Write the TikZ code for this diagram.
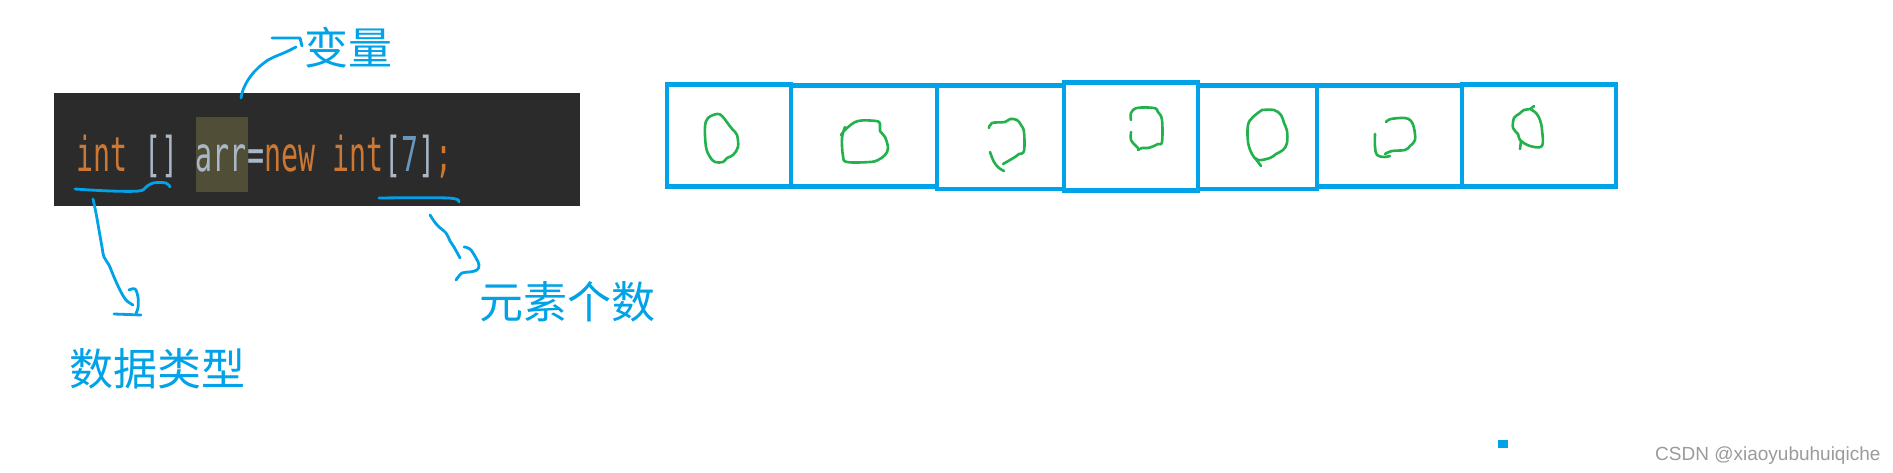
\documentclass[tikz,border=0pt]{standalone}
\usepackage{fontspec}
\newfontfamily\cjk{Noto Sans CJK SC}
\newfontfamily\codefont{DejaVu Sans Mono}
\newfontfamily\wmfont{Liberation Sans}
\definecolor{codebg}{HTML}{2B2B2B}
\definecolor{kw}{HTML}{CC7832}
\definecolor{ident}{HTML}{A9B7C6}
\definecolor{num}{HTML}{6897BB}
\definecolor{hl}{HTML}{514E38}
\definecolor{pen}{HTML}{00A2E8}
\definecolor{grn}{HTML}{22B14C}
\definecolor{wm}{HTML}{9B9B9B}
\newcommand{\cd}[1]{\scalebox{0.59}[1]{#1}}
\begin{document}
\begin{tikzpicture}[x=1pt,y=-1pt,
 code/.style={anchor=base west, inner sep=0pt, font=\codefont\fontsize{48}{50}\selectfont},
 note/.style={inner sep=0pt, text=pen, font=\cjk\fontsize{44}{48}\selectfont},
 cell/.style={draw=pen, line width=4.5pt},
 ink/.style={draw=pen, line width=2.8pt, line cap=round, line join=round},
 circ/.style={draw=grn, line width=2.6pt, line cap=round, line join=round}]
\useasboundingbox (0,0) rectangle (1893,473);
\fill[white] (0,0) rectangle (1893,473);
% code box
\fill[codebg] (54,93) rectangle (580,206);
\fill[hl] (196,117) rectangle (248,192);
\node[code,text=kw] (t1) at (76,172) {\cd{int}};
\node[code,text=ident] (t2) at (144.4,172) {\cd{[]}};
\node[code,text=ident] (t3) at (195.7,172) {\cd{arr}};
\node[code,text=ident] (t4) at (247,172) {\cd{=}};
\node[code,text=kw] (t5) at (264.1,172) {\cd{new}};
\node[code,text=kw] (t6) at (332.5,172) {\cd{int}};
\node[code,text=ident] (t7) at (383.8,172) {\cd{[}};
\node[code,text=num] (t8) at (400.9,172) {\cd{7}};
\node[code,text=ident] (t9) at (418,172) {\cd{]}};
\node[code,text=kw] (t10) at (435.1,172) {\cd{;}};
% array cells
\draw[cell] (667,84.5) rectangle (791,186.5);
\draw[cell] (791,85.5) rectangle (937,186.5);
\draw[cell] (937,85.5) rectangle (1064,189);
\draw[cell] (1064,82.5) rectangle (1198,190.5);
\draw[cell] (1198,85.5) rectangle (1317,189);
\draw[cell] (1317,85.5) rectangle (1462,186.5);
\draw[cell] (1462,84.5) rectangle (1616,186.5);
% green zeros
\draw[circ] plot[smooth cycle, tension=0.6] coordinates {(706,147) (705,127) (708,118) (717,114) (722,116) (729,125) (733,130) (737,135) (738,147) (733,155) (727,158) (723,162) (715,162) (710,157)};
\draw[circ] plot[smooth, tension=0.6] coordinates {(841,135) (847,128) (858,121) (876,121) (880,124) (880,131) (885,137) (888,148) (885,155) (878,160) (870,162) (847,162) (843,156) (842,138) (845,127)};
\draw[circ] plot[smooth, tension=0.6] coordinates {(989,128) (992,123) (1005,122) (1010,119) (1017,120) (1021,125) (1024,132) (1024,151) (1019,154) (1015,157) (1010,160) (1003,164)};
\draw[circ] plot[smooth, tension=0.6] coordinates {(990,152) (994,162) (999,168) (1004,171)};
\draw[circ] plot[smooth, tension=0.6] coordinates {(1131,120) (1131,113) (1137,108) (1154,108) (1158,112) (1162,120) (1162,142) (1158,144) (1154,146) (1148,148) (1142,148) (1138,150)};
\draw[circ] plot[smooth, tension=0.6] coordinates {(1131,132) (1131,140) (1135,145) (1138,148)};
\draw[circ] plot[smooth, tension=0.6] coordinates {(1262,110) (1274,110) (1281,115) (1284,123) (1287,131) (1287,143) (1283,150) (1276,154) (1270,158) (1258,160) (1252,154) (1248,142) (1248,125) (1253,117) (1262,110)};
\draw[circ] plot[smooth, tension=0.6] coordinates {(1255,158) (1261,166)};
\draw[circ] plot[smooth, tension=0.6] coordinates {(1386,122) (1391,119) (1405,118) (1411,121) (1414,128) (1415,140) (1410,146) (1405,150) (1392,151) (1385,154)};
\draw[circ] plot[smooth, tension=0.6] coordinates {(1375,134) (1375,147) (1377,155) (1384,157) (1390,156)};
\draw[circ] plot[smooth, tension=0.6] coordinates {(1534,106) (1530,109) (1524,110) (1519,114) (1514,118) (1513,128) (1518,134) (1520,140) (1530,146) (1542,146) (1542,130) (1540,120) (1536,113) (1530,109)};
\draw[circ] plot[smooth, tension=0.6] coordinates {(1521,141) (1520,149)};
% blue annotations
\draw[ink] plot[smooth, tension=0.6] coordinates {(75,189) (110,191) (139,191) (146,187) (153,183) (166,183) (170,187)};
\draw[ink] plot[smooth, tension=0.6] coordinates {(93,199) (96,213) (99,230) (102,247) (104,257) (109,265) (114,277) (120,290) (126,300) (133,305)};
\draw[ink] plot[smooth, tension=0.6] coordinates {(129,290) (135,289) (138,297) (138,308) (136,313)};
\draw[ink] (114,314) -- (141,315);
\draw[ink] plot[smooth, tension=0.6] coordinates {(241,98) (243,90) (248,80) (254,72) (259,67) (268,60) (274,57) (286,52) (296,47)};
\draw[ink] (272,38) -- (300,38) -- (302,46);
\draw[ink] plot[smooth, tension=0.6] coordinates {(379,198) (448,198) (459,202)};
\draw[ink] plot[smooth, tension=0.6] coordinates {(430,215) (437,225) (446,233) (450,241) (454,247) (460,258)};
\draw[ink] plot[smooth, tension=0.6] coordinates {(464,247) (470,249) (476,258) (479,265) (477,270) (470,272) (462,273) (456,280)};
% labels
\node[note] (dtype) at (157,369) {数据类型};
\node[note] (var) at (348,48) {变量};
\node[note] (count) at (567,302) {元素个数};
% small mark and watermark
\fill[pen] (1498,440) rectangle (1508,448);
\node[anchor=base west, inner sep=0pt, text=wm, font=\wmfont\fontsize{19}{22}\selectfont] (wmk) at (1655,460) {CSDN @xiaoyubuhuiqiche};
\end{tikzpicture}
\end{document}
